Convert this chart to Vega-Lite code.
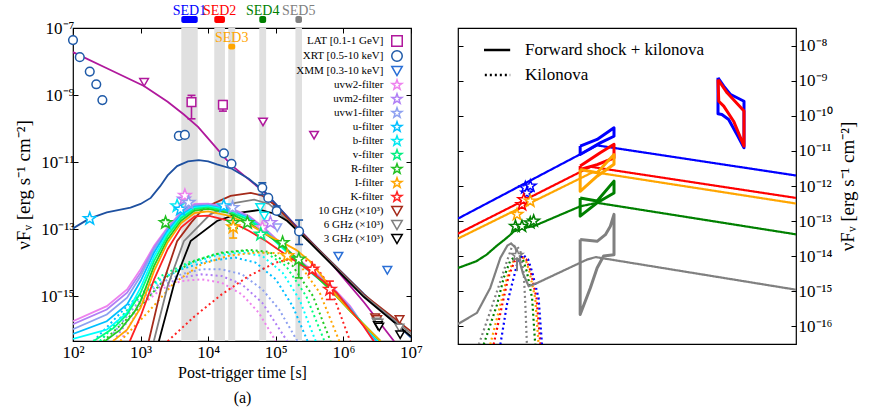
{
"$schema": "https://vega.github.io/schema/vega-lite/v6.json",
"padding": {"left": 14, "top": 3, "right": 4, "bottom": 4},
"background": "white",
"config": {
 "font": "Liberation Serif",
 "view": {"stroke": "black", "strokeWidth": 1.2},
 "axis": {"domain": false, "grid": false, "tickColor": "black", "tickWidth": 1, "labelColor": "black", "titleColor": "black", "labelFont": "Liberation Serif", "titleFont": "Liberation Serif", "titleFontWeight": "normal", "labelFontSize": 17, "titleFontSize": 16, "tickSize": -5, "labelFlush": false, "labelOverlap": false},
 "legend": {"labelFont": "Liberation Serif", "labelColor": "black"}
},
"datasets": {
 "bands": [
  {"sed": "SED1", "t1": 4000, "t2": 7000, "tc": 5290},
  {"sed": "SED2", "t1": 12300, "t2": 17700, "tc": 14750},
  {"sed": "SED3", "t1": 19800, "t2": 25100, "tc": 22300},
  {"sed": "SED4", "t1": 57000, "t2": 72000, "tc": 64000},
  {"sed": "SED5", "t1": 195000, "t2": 244000, "tc": 218000}
 ],
 "lcurves": [
  {"curve":"LAT","kind":"total","t":100,"flux":1.905e-8},{"curve":"LAT","kind":"total","t":316,"flux":6.31e-9},{"curve":"LAT","kind":"total","t":1122,"flux":1.862e-9},{"curve":"LAT","kind":"total","t":2512,"flux":6.31e-10},{"curve":"LAT","kind":"total","t":4365,"flux":2.63e-10},{"curve":"LAT","kind":"total","t":7079,"flux":1.122e-10},{"curve":"LAT","kind":"total","t":10715,"flux":4.266e-11},{"curve":"LAT","kind":"total","t":21380,"flux":8.511e-12},{"curve":"LAT","kind":"total","t":67608,"flux":1.259e-12},{"curve":"LAT","kind":"total","t":208930,"flux":1.122e-13},{"curve":"LAT","kind":"total","t":645654,"flux":1e-14},{"curve":"LAT","kind":"total","t":2041738,"flux":6.31e-16},{"curve":"LAT","kind":"total","t":5623413,"flux":4.5e-17},
  {"curve":"XRT","kind":"total","t":100,"flux":1.047e-13},{"curve":"XRT","kind":"total","t":174,"flux":2.042e-13},{"curve":"XRT","kind":"total","t":316,"flux":3.162e-13},{"curve":"XRT","kind":"total","t":708,"flux":4.365e-13},{"curve":"XRT","kind":"total","t":1000,"flux":5.623e-13},{"curve":"XRT","kind":"total","t":1413,"flux":8.511e-13},{"curve":"XRT","kind":"total","t":1950,"flux":1.905e-12},{"curve":"XRT","kind":"total","t":2512,"flux":3.981e-12},{"curve":"XRT","kind":"total","t":3467,"flux":7.586e-12},{"curve":"XRT","kind":"total","t":5012,"flux":1.047e-11},{"curve":"XRT","kind":"total","t":7244,"flux":1.148e-11},{"curve":"XRT","kind":"total","t":10000,"flux":1.047e-11},{"curve":"XRT","kind":"total","t":13490,"flux":8.511e-12},{"curve":"XRT","kind":"total","t":22387,"flux":6.31e-12},{"curve":"XRT","kind":"total","t":39811,"flux":3.162e-12},{"curve":"XRT","kind":"total","t":67608,"flux":1.349e-12},{"curve":"XRT","kind":"total","t":208930,"flux":1.072e-13},{"curve":"XRT","kind":"total","t":645654,"flux":1.096e-14},{"curve":"XRT","kind":"total","t":2041738,"flux":1.122e-15},{"curve":"XRT","kind":"total","t":10000000,"flux":5.754e-17},
  {"curve":"10 GHz","kind":"total","t":1318,"flux":4.5e-17},{"curve":"10 GHz","kind":"total","t":1995,"flux":1.585e-15},{"curve":"10 GHz","kind":"total","t":3467,"flux":4.365e-14},{"curve":"10 GHz","kind":"total","t":5623,"flux":1.585e-13},{"curve":"10 GHz","kind":"total","t":8710,"flux":4.365e-13},{"curve":"10 GHz","kind":"total","t":21380,"flux":9.772e-13},{"curve":"10 GHz","kind":"total","t":42658,"flux":1.202e-12},{"curve":"10 GHz","kind":"total","t":63096,"flux":1e-12},{"curve":"10 GHz","kind":"total","t":93325,"flux":5.495e-13},{"curve":"10 GHz","kind":"total","t":199526,"flux":1.122e-13},{"curve":"10 GHz","kind":"total","t":630957,"flux":1.122e-14},{"curve":"10 GHz","kind":"total","t":1995262,"flux":1.122e-15},{"curve":"10 GHz","kind":"total","t":10000000,"flux":8.913e-17},
  {"curve":"6 GHz","kind":"total","t":1567,"flux":4.5e-17},{"curve":"6 GHz","kind":"total","t":2512,"flux":1.995e-15},{"curve":"6 GHz","kind":"total","t":4365,"flux":4.365e-14},{"curve":"6 GHz","kind":"total","t":10715,"flux":2.754e-13},{"curve":"6 GHz","kind":"total","t":25119,"flux":6.026e-13},{"curve":"6 GHz","kind":"total","t":47863,"flux":7.586e-13},{"curve":"6 GHz","kind":"total","t":79433,"flux":5.623e-13},{"curve":"6 GHz","kind":"total","t":158489,"flux":1.585e-13},{"curve":"6 GHz","kind":"total","t":630957,"flux":1.072e-14},{"curve":"6 GHz","kind":"total","t":1995262,"flux":1.047e-15},{"curve":"6 GHz","kind":"total","t":10000000,"flux":7.586e-17},
  {"curve":"3 GHz","kind":"total","t":1862,"flux":4.5e-17},{"curve":"3 GHz","kind":"total","t":3162,"flux":2.512e-15},{"curve":"3 GHz","kind":"total","t":5495,"flux":4.365e-14},{"curve":"3 GHz","kind":"total","t":13490,"flux":1.738e-13},{"curve":"3 GHz","kind":"total","t":31623,"flux":3.162e-13},{"curve":"3 GHz","kind":"total","t":58884,"flux":3.715e-13},{"curve":"3 GHz","kind":"total","t":100000,"flux":2.818e-13},{"curve":"3 GHz","kind":"total","t":147911,"flux":1.738e-13},{"curve":"3 GHz","kind":"total","t":316228,"flux":3.981e-14},{"curve":"3 GHz","kind":"total","t":630957,"flux":1e-14},{"curve":"3 GHz","kind":"total","t":1995262,"flux":9.55e-16},{"curve":"3 GHz","kind":"total","t":10000000,"flux":6.31e-17},
  {"curve":"uvw2","kind":"total","t":100,"flux":1.778e-16},{"curve":"uvw2","kind":"total","t":316,"flux":5.012e-16},{"curve":"uvw2","kind":"total","t":631,"flux":1.585e-15},{"curve":"uvw2","kind":"total","t":1000,"flux":6.31e-15},{"curve":"uvw2","kind":"total","t":1585,"flux":3.162e-14},{"curve":"uvw2","kind":"total","t":2512,"flux":1.122e-13},{"curve":"uvw2","kind":"total","t":3981,"flux":3.162e-13},{"curve":"uvw2","kind":"total","t":6310,"flux":5.623e-13},{"curve":"uvw2","kind":"total","t":10000,"flux":5.754e-13},{"curve":"uvw2","kind":"total","t":19953,"flux":4.467e-13},{"curve":"uvw2","kind":"total","t":39811,"flux":2.512e-13},{"curve":"uvw2","kind":"total","t":70795,"flux":1e-13},{"curve":"uvw2","kind":"total","t":199526,"flux":1.413e-14},{"curve":"uvw2","kind":"total","t":630957,"flux":2.239e-15},{"curve":"uvw2","kind":"total","t":1258925,"flux":5.012e-16},{"curve":"uvw2","kind":"total","t":2818383,"flux":4.5e-17},
  {"curve":"uvm2","kind":"total","t":100,"flux":1.445e-16},{"curve":"uvm2","kind":"total","t":316,"flux":3.981e-16},{"curve":"uvm2","kind":"total","t":631,"flux":1.259e-15},{"curve":"uvm2","kind":"total","t":1000,"flux":5.012e-15},{"curve":"uvm2","kind":"total","t":1585,"flux":2.818e-14},{"curve":"uvm2","kind":"total","t":2512,"flux":1.047e-13},{"curve":"uvm2","kind":"total","t":3981,"flux":3.02e-13},{"curve":"uvm2","kind":"total","t":6310,"flux":5.37e-13},{"curve":"uvm2","kind":"total","t":10000,"flux":5.495e-13},{"curve":"uvm2","kind":"total","t":19953,"flux":4.266e-13},{"curve":"uvm2","kind":"total","t":39811,"flux":2.399e-13},{"curve":"uvm2","kind":"total","t":70795,"flux":9.55e-14},{"curve":"uvm2","kind":"total","t":199526,"flux":1.349e-14},{"curve":"uvm2","kind":"total","t":630957,"flux":2.089e-15},{"curve":"uvm2","kind":"total","t":1258925,"flux":4.677e-16},{"curve":"uvm2","kind":"total","t":2951209,"flux":4.5e-17},
  {"curve":"uvw1","kind":"total","t":100,"flux":1.023e-16},{"curve":"uvw1","kind":"total","t":316,"flux":2.818e-16},{"curve":"uvw1","kind":"total","t":631,"flux":8.913e-16},{"curve":"uvw1","kind":"total","t":1000,"flux":3.981e-15},{"curve":"uvw1","kind":"total","t":1585,"flux":2.512e-14},{"curve":"uvw1","kind":"total","t":2512,"flux":1e-13},{"curve":"uvw1","kind":"total","t":3981,"flux":2.818e-13},{"curve":"uvw1","kind":"total","t":6310,"flux":5.012e-13},{"curve":"uvw1","kind":"total","t":10000,"flux":5.248e-13},{"curve":"uvw1","kind":"total","t":19953,"flux":3.981e-13},{"curve":"uvw1","kind":"total","t":39811,"flux":2.239e-13},{"curve":"uvw1","kind":"total","t":70795,"flux":8.913e-14},{"curve":"uvw1","kind":"total","t":199526,"flux":1.259e-14},{"curve":"uvw1","kind":"total","t":630957,"flux":1.995e-15},{"curve":"uvw1","kind":"total","t":1258925,"flux":4.365e-16},{"curve":"uvw1","kind":"total","t":3090295,"flux":4.5e-17},
  {"curve":"u","kind":"total","t":100,"flux":7.413e-17},{"curve":"u","kind":"total","t":316,"flux":1.778e-16},{"curve":"u","kind":"total","t":631,"flux":5.623e-16},{"curve":"u","kind":"total","t":1000,"flux":2.818e-15},{"curve":"u","kind":"total","t":1585,"flux":1.995e-14},{"curve":"u","kind":"total","t":2512,"flux":8.913e-14},{"curve":"u","kind":"total","t":3981,"flux":2.63e-13},{"curve":"u","kind":"total","t":6310,"flux":4.677e-13},{"curve":"u","kind":"total","t":10000,"flux":5.012e-13},{"curve":"u","kind":"total","t":19953,"flux":3.802e-13},{"curve":"u","kind":"total","t":39811,"flux":2.089e-13},{"curve":"u","kind":"total","t":70795,"flux":8.318e-14},{"curve":"u","kind":"total","t":199526,"flux":1.202e-14},{"curve":"u","kind":"total","t":630957,"flux":1.905e-15},{"curve":"u","kind":"total","t":1258925,"flux":4.169e-16},{"curve":"u","kind":"total","t":3162278,"flux":4.5e-17},
  {"curve":"b","kind":"total","t":100,"flux":5.248e-17},{"curve":"b","kind":"total","t":316,"flux":1e-16},{"curve":"b","kind":"total","t":631,"flux":3.162e-16},{"curve":"b","kind":"total","t":1000,"flux":1.778e-15},{"curve":"b","kind":"total","t":1585,"flux":1.514e-14},{"curve":"b","kind":"total","t":2512,"flux":7.586e-14},{"curve":"b","kind":"total","t":3981,"flux":2.399e-13},{"curve":"b","kind":"total","t":6310,"flux":4.365e-13},{"curve":"b","kind":"total","t":10000,"flux":4.786e-13},{"curve":"b","kind":"total","t":19953,"flux":3.631e-13},{"curve":"b","kind":"total","t":39811,"flux":1.995e-13},{"curve":"b","kind":"total","t":70795,"flux":7.943e-14},{"curve":"b","kind":"total","t":199526,"flux":1.122e-14},{"curve":"b","kind":"total","t":630957,"flux":1.778e-15},{"curve":"b","kind":"total","t":1258925,"flux":3.981e-16},{"curve":"b","kind":"total","t":3311311,"flux":4.5e-17},
  {"curve":"v","kind":"total","t":200,"flux":4.5e-17},{"curve":"v","kind":"total","t":398,"flux":1.122e-16},{"curve":"v","kind":"total","t":631,"flux":2.818e-16},{"curve":"v","kind":"total","t":1000,"flux":1.259e-15},{"curve":"v","kind":"total","t":1585,"flux":1.122e-14},{"curve":"v","kind":"total","t":2512,"flux":6.31e-14},{"curve":"v","kind":"total","t":3981,"flux":2.138e-13},{"curve":"v","kind":"total","t":6310,"flux":3.981e-13},{"curve":"v","kind":"total","t":10000,"flux":4.467e-13},{"curve":"v","kind":"total","t":19953,"flux":3.388e-13},{"curve":"v","kind":"total","t":39811,"flux":1.905e-13},{"curve":"v","kind":"total","t":70795,"flux":7.943e-14},{"curve":"v","kind":"total","t":199526,"flux":1.259e-14},{"curve":"v","kind":"total","t":630957,"flux":1.778e-15},{"curve":"v","kind":"total","t":1258925,"flux":3.802e-16},{"curve":"v","kind":"total","t":3467369,"flux":4.5e-17},
  {"curve":"R","kind":"total","t":295,"flux":4.5e-17},{"curve":"R","kind":"total","t":501,"flux":1e-16},{"curve":"R","kind":"total","t":794,"flux":3.162e-16},{"curve":"R","kind":"total","t":1000,"flux":7.079e-16},{"curve":"R","kind":"total","t":1585,"flux":7.943e-15},{"curve":"R","kind":"total","t":2512,"flux":5.012e-14},{"curve":"R","kind":"total","t":3981,"flux":1.778e-13},{"curve":"R","kind":"total","t":6310,"flux":3.548e-13},{"curve":"R","kind":"total","t":10000,"flux":3.981e-13},{"curve":"R","kind":"total","t":19953,"flux":3.02e-13},{"curve":"R","kind":"total","t":39811,"flux":1.585e-13},{"curve":"R","kind":"total","t":70795,"flux":7.079e-14},{"curve":"R","kind":"total","t":125893,"flux":3.162e-14},{"curve":"R","kind":"total","t":199526,"flux":1.413e-14},{"curve":"R","kind":"total","t":630957,"flux":1.585e-15},{"curve":"R","kind":"total","t":1258925,"flux":3.548e-16},{"curve":"R","kind":"total","t":3548134,"flux":4.5e-17},
  {"curve":"I","kind":"total","t":389,"flux":4.5e-17},{"curve":"I","kind":"total","t":631,"flux":1e-16},{"curve":"I","kind":"total","t":1000,"flux":4.467e-16},{"curve":"I","kind":"total","t":1585,"flux":5.623e-15},{"curve":"I","kind":"total","t":2512,"flux":3.981e-14},{"curve":"I","kind":"total","t":3981,"flux":1.514e-13},{"curve":"I","kind":"total","t":6310,"flux":3.02e-13},{"curve":"I","kind":"total","t":10000,"flux":3.388e-13},{"curve":"I","kind":"total","t":19953,"flux":2.512e-13},{"curve":"I","kind":"total","t":39811,"flux":1.413e-13},{"curve":"I","kind":"total","t":70795,"flux":7.079e-14},{"curve":"I","kind":"total","t":125893,"flux":3.981e-14},{"curve":"I","kind":"total","t":199526,"flux":2.399e-14},{"curve":"I","kind":"total","t":316228,"flux":1.122e-14},{"curve":"I","kind":"total","t":501187,"flux":3.548e-15},{"curve":"I","kind":"total","t":794328,"flux":1e-15},{"curve":"I","kind":"total","t":1584893,"flux":2.239e-16},{"curve":"I","kind":"total","t":3548134,"flux":4.5e-17},
  {"curve":"K","kind":"total","t":692,"flux":4.5e-17},{"curve":"K","kind":"total","t":1000,"flux":2.512e-16},{"curve":"K","kind":"total","t":1585,"flux":3.162e-15},{"curve":"K","kind":"total","t":2512,"flux":2.512e-14},{"curve":"K","kind":"total","t":3981,"flux":1.122e-13},{"curve":"K","kind":"total","t":6310,"flux":2.399e-13},{"curve":"K","kind":"total","t":10000,"flux":2.512e-13},{"curve":"K","kind":"total","t":19953,"flux":1.778e-13},{"curve":"K","kind":"total","t":39811,"flux":8.913e-14},{"curve":"K","kind":"total","t":70795,"flux":4.467e-14},{"curve":"K","kind":"total","t":125893,"flux":1.995e-14},{"curve":"K","kind":"total","t":251189,"flux":7.943e-15},{"curve":"K","kind":"total","t":501187,"flux":2.818e-15},{"curve":"K","kind":"total","t":794328,"flux":1.259e-15},{"curve":"K","kind":"total","t":1258925,"flux":3.981e-16},{"curve":"K","kind":"total","t":1995262,"flux":1.259e-16},{"curve":"K","kind":"total","t":2818383,"flux":4.5e-17},
  {"curve":"uvw2","kind":"kilonova","t":501,"flux":4.5e-17},{"curve":"uvw2","kind":"kilonova","t":1000,"flux":5.012e-16},{"curve":"uvw2","kind":"kilonova","t":1995,"flux":1.585e-15},{"curve":"uvw2","kind":"kilonova","t":3981,"flux":2.818e-15},{"curve":"uvw2","kind":"kilonova","t":7943,"flux":3.162e-15},{"curve":"uvw2","kind":"kilonova","t":15849,"flux":2.512e-15},{"curve":"uvw2","kind":"kilonova","t":31623,"flux":1.122e-15},{"curve":"uvw2","kind":"kilonova","t":56234,"flux":3.162e-16},{"curve":"uvw2","kind":"kilonova","t":100000,"flux":4.5e-17},
  {"curve":"uvm2","kind":"kilonova","t":398,"flux":4.5e-17},{"curve":"uvm2","kind":"kilonova","t":1000,"flux":6.31e-16},{"curve":"uvm2","kind":"kilonova","t":1995,"flux":1.995e-15},{"curve":"uvm2","kind":"kilonova","t":3981,"flux":3.548e-15},{"curve":"uvm2","kind":"kilonova","t":7943,"flux":4.467e-15},{"curve":"uvm2","kind":"kilonova","t":15849,"flux":3.981e-15},{"curve":"uvm2","kind":"kilonova","t":31623,"flux":2.239e-15},{"curve":"uvm2","kind":"kilonova","t":63096,"flux":6.31e-16},{"curve":"uvm2","kind":"kilonova","t":147911,"flux":4.5e-17},
  {"curve":"uvw1","kind":"kilonova","t":316,"flux":4.5e-17},{"curve":"uvw1","kind":"kilonova","t":1000,"flux":7.943e-16},{"curve":"uvw1","kind":"kilonova","t":1995,"flux":2.512e-15},{"curve":"uvw1","kind":"kilonova","t":3981,"flux":4.467e-15},{"curve":"uvw1","kind":"kilonova","t":7943,"flux":6.31e-15},{"curve":"uvw1","kind":"kilonova","t":15849,"flux":6.31e-15},{"curve":"uvw1","kind":"kilonova","t":31623,"flux":4.467e-15},{"curve":"uvw1","kind":"kilonova","t":63096,"flux":1.585e-15},{"curve":"uvw1","kind":"kilonova","t":112202,"flux":3.981e-16},{"curve":"uvw1","kind":"kilonova","t":208930,"flux":4.5e-17},
  {"curve":"u","kind":"kilonova","t":200,"flux":4.5e-17},{"curve":"u","kind":"kilonova","t":631,"flux":5.012e-16},{"curve":"u","kind":"kilonova","t":1585,"flux":2.512e-15},{"curve":"u","kind":"kilonova","t":3981,"flux":6.31e-15},{"curve":"u","kind":"kilonova","t":10000,"flux":1.122e-14},{"curve":"u","kind":"kilonova","t":25119,"flux":1.413e-14},{"curve":"u","kind":"kilonova","t":50119,"flux":1e-14},{"curve":"u","kind":"kilonova","t":100000,"flux":3.162e-15},{"curve":"u","kind":"kilonova","t":177828,"flux":5.012e-16},{"curve":"u","kind":"kilonova","t":295121,"flux":4.5e-17},
  {"curve":"b","kind":"kilonova","t":251,"flux":4.5e-17},{"curve":"b","kind":"kilonova","t":794,"flux":6.31e-16},{"curve":"b","kind":"kilonova","t":1995,"flux":3.162e-15},{"curve":"b","kind":"kilonova","t":5012,"flux":8.913e-15},{"curve":"b","kind":"kilonova","t":12589,"flux":1.585e-14},{"curve":"b","kind":"kilonova","t":31623,"flux":1.995e-14},{"curve":"b","kind":"kilonova","t":63096,"flux":1.585e-14},{"curve":"b","kind":"kilonova","t":125893,"flux":5.012e-15},{"curve":"b","kind":"kilonova","t":223872,"flux":7.943e-16},{"curve":"b","kind":"kilonova","t":389045,"flux":4.5e-17},
  {"curve":"v","kind":"kilonova","t":251,"flux":4.5e-17},{"curve":"v","kind":"kilonova","t":794,"flux":6.31e-16},{"curve":"v","kind":"kilonova","t":1995,"flux":3.981e-15},{"curve":"v","kind":"kilonova","t":5012,"flux":1e-14},{"curve":"v","kind":"kilonova","t":12589,"flux":1.778e-14},{"curve":"v","kind":"kilonova","t":31623,"flux":2.239e-14},{"curve":"v","kind":"kilonova","t":70795,"flux":1.995e-14},{"curve":"v","kind":"kilonova","t":141254,"flux":7.943e-15},{"curve":"v","kind":"kilonova","t":281838,"flux":1e-15},{"curve":"v","kind":"kilonova","t":524807,"flux":4.5e-17},
  {"curve":"R","kind":"kilonova","t":282,"flux":4.5e-17},{"curve":"R","kind":"kilonova","t":1000,"flux":5.012e-16},{"curve":"R","kind":"kilonova","t":2512,"flux":3.981e-15},{"curve":"R","kind":"kilonova","t":6310,"flux":1.122e-14},{"curve":"R","kind":"kilonova","t":15849,"flux":1.995e-14},{"curve":"R","kind":"kilonova","t":39811,"flux":2.399e-14},{"curve":"R","kind":"kilonova","t":79433,"flux":2.089e-14},{"curve":"R","kind":"kilonova","t":177828,"flux":7.943e-15},{"curve":"R","kind":"kilonova","t":354813,"flux":1e-15},{"curve":"R","kind":"kilonova","t":645654,"flux":4.5e-17},
  {"curve":"I","kind":"kilonova","t":501,"flux":4.5e-17},{"curve":"I","kind":"kilonova","t":1259,"flux":3.162e-16},{"curve":"I","kind":"kilonova","t":3162,"flux":2.512e-15},{"curve":"I","kind":"kilonova","t":7943,"flux":8.913e-15},{"curve":"I","kind":"kilonova","t":19953,"flux":1.585e-14},{"curve":"I","kind":"kilonova","t":50119,"flux":1.995e-14},{"curve":"I","kind":"kilonova","t":112202,"flux":1.905e-14},{"curve":"I","kind":"kilonova","t":223872,"flux":8.913e-15},{"curve":"I","kind":"kilonova","t":446684,"flux":1.259e-15},{"curve":"I","kind":"kilonova","t":870964,"flux":4.5e-17},
  {"curve":"K","kind":"kilonova","t":2512,"flux":4.5e-17},{"curve":"K","kind":"kilonova","t":6310,"flux":2.512e-16},{"curve":"K","kind":"kilonova","t":15849,"flux":1.122e-15},{"curve":"K","kind":"kilonova","t":39811,"flux":3.981e-15},{"curve":"K","kind":"kilonova","t":100000,"flux":1e-14},{"curve":"K","kind":"kilonova","t":199526,"flux":1.413e-14},{"curve":"K","kind":"kilonova","t":354813,"flux":1e-14},{"curve":"K","kind":"kilonova","t":630957,"flux":1.995e-15},{"curve":"K","kind":"kilonova","t":1258925,"flux":4.5e-17}
 ],
 "lpoints": [
  {"series":"LAT upper limit","t":1127,"flux":2.4e-9},{"series":"LAT upper limit","t":64600,"flux":1.58e-10},{"series":"LAT upper limit","t":368000,"flux":6.31e-11},
  {"series":"LAT [0.1-1 GeV]","t":5660,"flux":6.17e-10,"lo":1.95e-10,"hi":9.77e-10},{"series":"LAT [0.1-1 GeV]","t":16500,"flux":5.13e-10,"lo":3.31e-10,"hi":6.76e-10},
  {"series":"XRT [0.5-10 keV]","t":100,"flux":4.37e-8},{"series":"XRT [0.5-10 keV]","t":126,"flux":1.35e-8},{"series":"XRT [0.5-10 keV]","t":177,"flux":5.01e-9},{"series":"XRT [0.5-10 keV]","t":221,"flux":2.09e-9},{"series":"XRT [0.5-10 keV]","t":272,"flux":7.08e-10},{"series":"XRT [0.5-10 keV]","t":3680,"flux":6.03e-11},{"series":"XRT [0.5-10 keV]","t":4520,"flux":6.46e-11},{"series":"XRT [0.5-10 keV]","t":17100,"flux":1.82e-11},{"series":"XRT [0.5-10 keV]","t":22100,"flux":8.91e-12},{"series":"XRT [0.5-10 keV]","t":63100,"flux":1.7e-12,"lo":1.07e-12,"hi":2.4e-12},{"series":"XRT [0.5-10 keV]","t":77400,"flux":8.51e-13},{"series":"XRT [0.5-10 keV]","t":103000,"flux":3.47e-13,"lo":2.8e-13,"hi":4.9e-13},{"series":"XRT [0.5-10 keV]","t":221000,"flux":8.51e-14,"lo":3.47e-14,"hi":1.86e-13},
  {"series":"XMM [0.3-10 keV]","t":843000,"flux":1.55e-14},{"series":"XMM [0.3-10 keV]","t":4470000,"flux":5.89e-15},
  {"series":"10 GHz (×10³)","t":2950000,"flux":2.24e-16},{"series":"10 GHz (×10³)","t":3160000,"flux":2.0e-16},{"series":"10 GHz (×10³)","t":6760000,"flux":2.0e-16},
  {"series":"6 GHz (×10³)","t":3090000,"flux":1.7e-16},{"series":"6 GHz (×10³)","t":3310000,"flux":1.58e-16},{"series":"6 GHz (×10³)","t":6760000,"flux":1.12e-16},
  {"series":"3 GHz (×10³)","t":3240000,"flux":1.32e-16},{"series":"3 GHz (×10³)","t":3390000,"flux":1.2e-16},{"series":"3 GHz (×10³)","t":6920000,"flux":7.08e-17},
  {"series":"b-filter upper limit","t":58900,"flux":4.37e-13},{"series":"b-filter upper limit","t":67600,"flux":2.45e-13},{"series":"uvw1-filter upper limit","t":105000,"flux":1.1e-13},
  {"series":"u-filter","t":177,"flux":2.04e-13},
  {"series":"R-filter","t":2340,"flux":1.55e-13,"lo":1.2e-13,"hi":1.9e-13},
  {"series":"b-filter","t":3470,"flux":4.9e-13},
  {"series":"u-filter","t":3890,"flux":3.89e-13},
  {"series":"uvm2-filter","t":4370,"flux":7.76e-13},
  {"series":"uvw2-filter","t":4520,"flux":1.0e-12},
  {"series":"uvw1-filter","t":5130,"flux":6.17e-13},
  {"series":"u-filter","t":17000,"flux":4.9e-13},
  {"series":"uvw1-filter","t":22900,"flux":4.37e-13},
  {"series":"R-filter","t":23400,"flux":1.55e-13},
  {"series":"I-filter","t":23400,"flux":1.15e-13,"lo":5.4e-14,"hi":1.15e-13},
  {"series":"R-filter","t":38000,"flux":1.55e-13},
  {"series":"uvw2-filter","t":63100,"flux":1.1e-13},
  {"series":"uvm2-filter","t":83200,"flux":1.55e-13},
  {"series":"v-filter","t":60000,"flux":7.0e-14},
  {"series":"R-filter","t":126000,"flux":3.9e-14},
  {"series":"I-filter","t":148000,"flux":1.6e-14},
  {"series":"R-filter","t":219000,"flux":1.26e-14,"lo":3.5e-15,"hi":1.26e-14},
  {"series":"K-filter","t":347000,"flux":6.3e-15},
  {"series":"K-filter","t":631000,"flux":1.58e-15,"lo":7.9e-16,"hi":2.8e-15}
 ],
 "rlines": [
  {"sed":"SED1","kind":"Forward shock + kilonova","E":1e-5,"flux":1.175e-13},{"sed":"SED1","kind":"Forward shock + kilonova","E":2.239,"flux":1.445e-11},{"sed":"SED1","kind":"Forward shock + kilonova","E":1e8,"flux":1.995e-12},
  {"sed":"SED2","kind":"Forward shock + kilonova","E":1e-5,"flux":4.365e-14},{"sed":"SED2","kind":"Forward shock + kilonova","E":1.259,"flux":3.548e-12},{"sed":"SED2","kind":"Forward shock + kilonova","E":1e8,"flux":4.571e-13},
  {"sed":"SED3","kind":"Forward shock + kilonova","E":1e-5,"flux":3.162e-14},{"sed":"SED3","kind":"Forward shock + kilonova","E":1.585,"flux":2.512e-12},{"sed":"SED3","kind":"Forward shock + kilonova","E":1e8,"flux":3.162e-13},
  {"sed":"SED4","kind":"Forward shock + kilonova","E":1e-5,"flux":4.571e-15},{"sed":"SED4","kind":"Forward shock + kilonova","E":5.012e-5,"flux":7.079e-15},{"sed":"SED4","kind":"Forward shock + kilonova","E":1.259e-4,"flux":1.096e-14},{"sed":"SED4","kind":"Forward shock + kilonova","E":3.162e-4,"flux":1.995e-14},{"sed":"SED4","kind":"Forward shock + kilonova","E":5.754e-4,"flux":2.818e-14},{"sed":"SED4","kind":"Forward shock + kilonova","E":1e-3,"flux":3.981e-14},{"sed":"SED4","kind":"Forward shock + kilonova","E":1.38e-3,"flux":5.012e-14},{"sed":"SED4","kind":"Forward shock + kilonova","E":3.162e-3,"flux":6.31e-14},{"sed":"SED4","kind":"Forward shock + kilonova","E":7.943e-3,"flux":7.079e-14},{"sed":"SED4","kind":"Forward shock + kilonova","E":0.501,"flux":2.63e-13},{"sed":"SED4","kind":"Forward shock + kilonova","E":2.239,"flux":3.311e-13},{"sed":"SED4","kind":"Forward shock + kilonova","E":1e8,"flux":4.169e-14},
  {"sed":"SED5","kind":"Forward shock + kilonova","E":1e-5,"flux":1.148e-16},{"sed":"SED5","kind":"Forward shock + kilonova","E":5.37e-5,"flux":2.399e-16},{"sed":"SED5","kind":"Forward shock + kilonova","E":1.738e-4,"flux":1.23e-15},{"sed":"SED5","kind":"Forward shock + kilonova","E":4.266e-4,"flux":8.913e-15},{"sed":"SED5","kind":"Forward shock + kilonova","E":7.943e-4,"flux":1.995e-14},{"sed":"SED5","kind":"Forward shock + kilonova","E":1.096e-3,"flux":2.291e-14},{"sed":"SED5","kind":"Forward shock + kilonova","E":1.585e-3,"flux":1.778e-14},{"sed":"SED5","kind":"Forward shock + kilonova","E":2.239e-3,"flux":7.943e-15},{"sed":"SED5","kind":"Forward shock + kilonova","E":3.162e-3,"flux":3.162e-15},{"sed":"SED5","kind":"Forward shock + kilonova","E":5.248e-3,"flux":1.38e-15},{"sed":"SED5","kind":"Forward shock + kilonova","E":1.096e-2,"flux":1.698e-15},{"sed":"SED5","kind":"Forward shock + kilonova","E":0.912,"flux":7.943e-15},{"sed":"SED5","kind":"Forward shock + kilonova","E":1.995,"flux":9.333e-15},{"sed":"SED5","kind":"Forward shock + kilonova","E":1e8,"flux":1.096e-15},
  {"sed":"SED5","kind":"Kilonova","E":6.31e-5,"flux":3e-17},{"sed":"SED5","kind":"Kilonova","E":1.738e-4,"flux":2.63e-16},{"sed":"SED5","kind":"Kilonova","E":4.266e-4,"flux":1.905e-15},{"sed":"SED5","kind":"Kilonova","E":7.586e-4,"flux":7.079e-15},{"sed":"SED5","kind":"Kilonova","E":1.202e-3,"flux":1.905e-14},{"sed":"SED5","kind":"Kilonova","E":1.778e-3,"flux":1.995e-14},{"sed":"SED5","kind":"Kilonova","E":2.512e-3,"flux":1.38e-14},{"sed":"SED5","kind":"Kilonova","E":3.388e-3,"flux":3.162e-15},{"sed":"SED5","kind":"Kilonova","E":3.89e-3,"flux":4.169e-16},{"sed":"SED5","kind":"Kilonova","E":4.467e-3,"flux":3e-17},
  {"sed":"SED4","kind":"Kilonova","E":9.772e-5,"flux":3e-17},{"sed":"SED4","kind":"Kilonova","E":3.162e-4,"flux":4.074e-16},{"sed":"SED4","kind":"Kilonova","E":5.754e-4,"flux":2.399e-15},{"sed":"SED4","kind":"Kilonova","E":1e-3,"flux":7.079e-15},{"sed":"SED4","kind":"Kilonova","E":1.778e-3,"flux":1.096e-14},{"sed":"SED4","kind":"Kilonova","E":3.162e-3,"flux":7.943e-15},{"sed":"SED4","kind":"Kilonova","E":4.467e-3,"flux":3.548e-15},{"sed":"SED4","kind":"Kilonova","E":7.079e-3,"flux":6.31e-16},{"sed":"SED4","kind":"Kilonova","E":9.333e-3,"flux":3e-17},
  {"sed":"SED3","kind":"Kilonova","E":1.738e-4,"flux":3e-17},{"sed":"SED3","kind":"Kilonova","E":4.266e-4,"flux":4.074e-16},{"sed":"SED3","kind":"Kilonova","E":7.586e-4,"flux":2.399e-15},{"sed":"SED3","kind":"Kilonova","E":1.318e-3,"flux":7.079e-15},{"sed":"SED3","kind":"Kilonova","E":2.344e-3,"flux":1.096e-14},{"sed":"SED3","kind":"Kilonova","E":3.981e-3,"flux":7.943e-15},{"sed":"SED3","kind":"Kilonova","E":5.623e-3,"flux":3.548e-15},{"sed":"SED3","kind":"Kilonova","E":9.333e-3,"flux":6.31e-16},{"sed":"SED3","kind":"Kilonova","E":1.259e-2,"flux":3e-17},
  {"sed":"SED2","kind":"Kilonova","E":2.344e-4,"flux":3e-17},{"sed":"SED2","kind":"Kilonova","E":5.012e-4,"flux":4.074e-16},{"sed":"SED2","kind":"Kilonova","E":8.511e-4,"flux":2.399e-15},{"sed":"SED2","kind":"Kilonova","E":1.479e-3,"flux":7.079e-15},{"sed":"SED2","kind":"Kilonova","E":2.512e-3,"flux":1e-14},{"sed":"SED2","kind":"Kilonova","E":4.266e-3,"flux":7.943e-15},{"sed":"SED2","kind":"Kilonova","E":6.31e-3,"flux":3.548e-15},{"sed":"SED2","kind":"Kilonova","E":1.047e-2,"flux":6.31e-16},{"sed":"SED2","kind":"Kilonova","E":1.479e-2,"flux":3e-17},
  {"sed":"SED1","kind":"Kilonova","E":4.266e-4,"flux":3e-17},{"sed":"SED1","kind":"Kilonova","E":7.586e-4,"flux":4.074e-16},{"sed":"SED1","kind":"Kilonova","E":1.38e-3,"flux":2.399e-15},{"sed":"SED1","kind":"Kilonova","E":1.995e-3,"flux":7.079e-15},{"sed":"SED1","kind":"Kilonova","E":3.162e-3,"flux":1.096e-14},{"sed":"SED1","kind":"Kilonova","E":5.012e-3,"flux":7.943e-15},{"sed":"SED1","kind":"Kilonova","E":7.079e-3,"flux":3.548e-15},{"sed":"SED1","kind":"Kilonova","E":1.259e-2,"flux":6.31e-16},{"sed":"SED1","kind":"Kilonova","E":1.698e-2,"flux":3e-17}
 ],
 "bowties": [
  {"sed":"SED1","bt":"X1","i":0,"E":0.5,"flux":1.38e-11},{"sed":"SED1","bt":"X1","i":1,"E":2.24,"flux":2.138e-11},{"sed":"SED1","bt":"X1","i":2,"E":10,"flux":4.571e-11},{"sed":"SED1","bt":"X1","i":3,"E":10,"flux":2.63e-11},{"sed":"SED1","bt":"X1","i":4,"E":2.95,"flux":1.698e-11},{"sed":"SED1","bt":"X1","i":5,"E":0.5,"flux":7.943e-12},{"sed":"SED1","bt":"X1","i":6,"E":0.5,"flux":1.38e-11},
  {"sed":"SED2","bt":"X2","i":0,"E":0.5,"flux":3.715e-12},{"sed":"SED2","bt":"X2","i":1,"E":2.95,"flux":8.913e-12},{"sed":"SED2","bt":"X2","i":2,"E":10,"flux":1.549e-11},{"sed":"SED2","bt":"X2","i":3,"E":10,"flux":6.31e-12},{"sed":"SED2","bt":"X2","i":4,"E":2.24,"flux":4.074e-12},{"sed":"SED2","bt":"X2","i":5,"E":0.5,"flux":2.951e-12},{"sed":"SED2","bt":"X2","i":6,"E":0.5,"flux":3.715e-12},
  {"sed":"SED3","bt":"X3","i":0,"E":0.5,"flux":2.951e-12},{"sed":"SED3","bt":"X3","i":1,"E":2.24,"flux":2.399e-12},{"sed":"SED3","bt":"X3","i":2,"E":10,"flux":7.943e-12},{"sed":"SED3","bt":"X3","i":3,"E":10,"flux":4.169e-12},{"sed":"SED3","bt":"X3","i":4,"E":2.24,"flux":1.905e-12},{"sed":"SED3","bt":"X3","i":5,"E":0.5,"flux":7.079e-13},{"sed":"SED3","bt":"X3","i":6,"E":0.5,"flux":2.951e-12},
  {"sed":"SED4","bt":"X4","i":0,"E":0.5,"flux":4.571e-13},{"sed":"SED4","bt":"X4","i":1,"E":2.24,"flux":3.715e-13},{"sed":"SED4","bt":"X4","i":2,"E":10,"flux":1.38e-12},{"sed":"SED4","bt":"X4","i":3,"E":10,"flux":6.31e-13},{"sed":"SED4","bt":"X4","i":4,"E":2.24,"flux":3.311e-13},{"sed":"SED4","bt":"X4","i":5,"E":0.5,"flux":1.38e-13},{"sed":"SED4","bt":"X4","i":6,"E":0.5,"flux":4.571e-13},
  {"sed":"SED5","bt":"X5","i":0,"E":0.5,"flux":2.951e-14},{"sed":"SED5","bt":"X5","i":1,"E":2.24,"flux":2.63e-14},{"sed":"SED5","bt":"X5","i":2,"E":4.68,"flux":4.074e-14},{"sed":"SED5","bt":"X5","i":3,"E":7.24,"flux":7.079e-14},{"sed":"SED5","bt":"X5","i":4,"E":10,"flux":1.549e-13},{"sed":"SED5","bt":"X5","i":5,"E":10,"flux":1.096e-14},{"sed":"SED5","bt":"X5","i":6,"E":3.98,"flux":1e-14},{"sed":"SED5","bt":"X5","i":7,"E":2.24,"flux":4.571e-15},{"sed":"SED5","bt":"X5","i":8,"E":1.23,"flux":1.23e-15},{"sed":"SED5","bt":"X5","i":9,"E":0.5,"flux":2.138e-16},{"sed":"SED5","bt":"X5","i":10,"E":0.5,"flux":2.951e-14},
  {"sed":"SED1","bt":"G1","i":0,"E":100000,"flux":1.23e-9},{"sed":"SED1","bt":"G1","i":1,"E":166000,"flux":7.079e-10},{"sed":"SED1","bt":"G1","i":2,"E":295000,"flux":4.169e-10},{"sed":"SED1","bt":"G1","i":3,"E":1000000,"flux":2.63e-10},{"sed":"SED1","bt":"G1","i":4,"E":1000000,"flux":1.23e-11},{"sed":"SED1","bt":"G1","i":5,"E":537000,"flux":2.951e-11},{"sed":"SED1","bt":"G1","i":6,"E":257000,"flux":7.943e-11},{"sed":"SED1","bt":"G1","i":7,"E":141000,"flux":1.096e-10},{"sed":"SED1","bt":"G1","i":8,"E":100000,"flux":1.148e-10},{"sed":"SED1","bt":"G1","i":9,"E":100000,"flux":1.23e-9},
  {"sed":"SED2","bt":"G2","i":0,"E":100000,"flux":1.096e-9},{"sed":"SED2","bt":"G2","i":1,"E":224000,"flux":4.571e-10},{"sed":"SED2","bt":"G2","i":2,"E":1000000,"flux":1.38e-10},{"sed":"SED2","bt":"G2","i":3,"E":1000000,"flux":1.38e-11},{"sed":"SED2","bt":"G2","i":4,"E":398000,"flux":7.079e-11},{"sed":"SED2","bt":"G2","i":5,"E":166000,"flux":1.905e-10},{"sed":"SED2","bt":"G2","i":6,"E":107000,"flux":2.63e-10},{"sed":"SED2","bt":"G2","i":7,"E":100000,"flux":1.096e-9}
 ],
 "rpoints": [
  {"sed":"SED1","E":3.89e-3,"flux":8.913e-13},{"sed":"SED1","E":6.026e-3,"flux":1e-12},{"sed":"SED1","E":4.467e-3,"flux":6.31e-13},
  {"sed":"SED2","E":2.884e-3,"flux":2.951e-13},{"sed":"SED2","E":3.388e-3,"flux":4.074e-13},
  {"sed":"SED3","E":6.026e-3,"flux":3.715e-13},{"sed":"SED3","E":1.862e-3,"flux":1.549e-13},
  {"sed":"SED4","E":1.622e-3,"flux":7.079e-14},{"sed":"SED4","E":2.884e-3,"flux":7.079e-14},{"sed":"SED4","E":6.026e-3,"flux":8.913e-14},{"sed":"SED4","E":8.128e-3,"flux":1e-13},
  {"sed":"SED5","E":1.862e-3,"flux":1.047e-14,"lo":3.715e-15,"hi":1.047e-14}
 ]
},
"hconcat": [
 {
  "width": 338, "height": 313,
  "layer": [
   {"layer": [
    {"data": {"name": "bands"}, "mark": {"type": "rect", "color": "#e0e0e0"},
     "encoding": {
      "x": {"field": "t1", "type": "quantitative", "scale": {"type": "log", "domain": [100, 10000000], "nice": false},
            "axis": {"values": [100, 1000, 10000, 100000, 1000000, 10000000], "labelExpr": "'10' + (datum.value < 1 ? '⁻' : '') + ['⁰','¹','²','³','⁴','⁵','⁶','⁷','⁸','⁹','¹⁰','¹¹','¹²','¹³','¹⁴','¹⁵','¹⁶','¹⁷'][abs(round(log(datum.value)/LN10))]", "title": ["Post-trigger time [s]", "(a)"], "titleLineHeight": 25, "labelPadding": 8, "titlePadding": 4}},
      "x2": {"field": "t2"}}},
    {"data": {"name": "bands"}, "transform": [{"filter": "datum.sed != 'SED3'"}],
     "mark": {"type": "text", "fontSize": 14, "baseline": "middle", "font": "Liberation Serif"},
     "encoding": {
      "x": {"field": "tc", "type": "quantitative"},
      "y": {"datum": 3.24e-7, "type": "quantitative", "scale": {"type": "log", "domain": [4.57e-17, 1e-7], "nice": false}},
      "text": {"field": "sed"},
      "fill": {"field": "sed", "type": "nominal", "scale": {"domain": ["SED1","SED2","SED3","SED4","SED5"], "range": ["#0000ff","#ff0000","#ffa500","#008000","#808080"]}, "legend": null}}},
    {"data": {"name": "bands"}, "transform": [{"filter": "datum.sed == 'SED3'"}],
     "mark": {"type": "text", "fontSize": 14, "baseline": "middle", "font": "Liberation Serif"},
     "encoding": {
      "x": {"field": "tc", "type": "quantitative"},
      "y": {"datum": 4.9e-8, "type": "quantitative"},
      "text": {"field": "sed"},
      "fill": {"field": "sed", "type": "nominal", "legend": null}}},
    {"data": {"name": "bands"}, "transform": [{"filter": "datum.sed != 'SED3'"}],
     "mark": {"type": "rect", "cornerRadius": 2},
     "encoding": {
      "x": {"field": "t1", "type": "quantitative"}, "x2": {"field": "t2"},
      "y": {"datum": 2.29e-7, "type": "quantitative"}, "y2": {"datum": 1.41e-7},
      "fill": {"field": "sed", "type": "nominal", "legend": null}}},
    {"data": {"name": "bands"}, "transform": [{"filter": "datum.sed == 'SED3'"}],
     "mark": {"type": "rect", "cornerRadius": 2},
     "encoding": {
      "x": {"field": "t1", "type": "quantitative"}, "x2": {"field": "t2"},
      "y": {"datum": 3.39e-8, "type": "quantitative"}, "y2": {"datum": 2.29e-8},
      "fill": {"field": "sed", "type": "nominal", "legend": null}}},
    {"data": {"name": "lcurves"}, "transform": [{"filter": "datum.kind == 'kilonova'"}],
     "mark": {"type": "line", "clip": true, "strokeWidth": 2, "strokeDash": [2, 3]},
     "encoding": {
      "x": {"field": "t", "type": "quantitative"},
      "y": {"field": "flux", "type": "quantitative",
            "axis": {"values": [1e-7, 1e-9, 1e-11, 1e-13, 1e-15], "labelExpr": "'10' + (datum.value < 1 ? '⁻' : '') + ['⁰','¹','²','³','⁴','⁵','⁶','⁷','⁸','⁹','¹⁰','¹¹','¹²','¹³','¹⁴','¹⁵','¹⁶','¹⁷'][abs(round(log(datum.value)/LN10))]", "title": "νFᵥ [erg s⁻¹ cm⁻²]", "titleFontSize": 19, "labelPadding": 4, "titlePadding": 6}},
      "color": {"field": "curve", "type": "nominal", "legend": null,
                "scale": {"domain": ["LAT","XRT","10 GHz","6 GHz","3 GHz","uvw2","uvm2","uvw1","u","b","v","R","I","K"],
                          "range": ["#b0189c","#1e50a0","#a52a1a","#808080","#000000","#ee82ee","#b07ff5","#8da0f0","#00bfff","#00ffff","#00ff7f","#22cc22","#ffa500","#ff2222"]}}}},
    {"data": {"name": "lcurves"}, "transform": [{"filter": "datum.kind == 'total'"}],
     "mark": {"type": "line", "clip": true, "strokeWidth": 1.8},
     "encoding": {
      "x": {"field": "t", "type": "quantitative"},
      "y": {"field": "flux", "type": "quantitative"},
      "color": {"field": "curve", "type": "nominal", "legend": null}}},
    {"data": {"name": "lpoints"}, "transform": [{"filter": "isValid(datum.lo)"}],
     "mark": {"type": "rule", "strokeWidth": 1.6},
     "encoding": {
      "x": {"field": "t", "type": "quantitative"},
      "y": {"field": "lo", "type": "quantitative"}, "y2": {"field": "hi"},
      "stroke": {"field": "series", "type": "nominal"}}},
    {"data": {"name": "lpoints"}, "transform": [{"filter": "isValid(datum.lo)"}],
     "mark": {"type": "point", "shape": "stroke", "filled": false, "opacity": 1, "strokeWidth": 1.6, "size": 64},
     "encoding": {
      "x": {"field": "t", "type": "quantitative"},
      "y": {"field": "lo", "type": "quantitative"},
      "stroke": {"field": "series", "type": "nominal"}}},
    {"data": {"name": "lpoints"}, "transform": [{"filter": "isValid(datum.lo)"}],
     "mark": {"type": "point", "shape": "stroke", "filled": false, "opacity": 1, "strokeWidth": 1.6, "size": 64},
     "encoding": {
      "x": {"field": "t", "type": "quantitative"},
      "y": {"field": "hi", "type": "quantitative"},
      "stroke": {"field": "series", "type": "nominal"}}},
    {"data": {"name": "lpoints"}, "transform": [{"filter": {"not": {"field": "series", "oneOf": ["uvw2-filter","uvm2-filter","uvw1-filter","u-filter","b-filter","v-filter","R-filter","I-filter","K-filter"]}}}],
     "mark": {"type": "point", "filled": false, "fill": "white", "opacity": 1, "strokeWidth": 1.5, "size": 75},
     "encoding": {
      "x": {"field": "t", "type": "quantitative"},
      "y": {"field": "flux", "type": "quantitative"},
      "stroke": {"field": "series", "type": "nominal",
                 "scale": {"domain": ["LAT [0.1-1 GeV]","XRT [0.5-10 keV]","XMM [0.3-10 keV]","uvw2-filter","uvm2-filter","uvw1-filter","u-filter","b-filter","v-filter","R-filter","I-filter","K-filter","10 GHz (×10³)","6 GHz (×10³)","3 GHz (×10³)","LAT upper limit","b-filter upper limit","uvw1-filter upper limit"],
                           "range": ["#b0189c","#1f5aa8","#2a6fd6","#ee82ee","#b07ff5","#8da0f0","#00bfff","#00e8f0","#00ee80","#22c022","#ffa500","#ff2222","#a52a1a","#808080","#000000","#b0189c","#00e8f0","#8da0f0"]},
                 "legend": {"title": null, "orient": "none", "legendX": 318, "legendY": 7, "values": ["LAT [0.1-1 GeV]","XRT [0.5-10 keV]","XMM [0.3-10 keV]","uvw2-filter","uvm2-filter","uvw1-filter","u-filter","b-filter","v-filter","R-filter","I-filter","K-filter","10 GHz (×10³)","6 GHz (×10³)","3 GHz (×10³)"], "labelAlign": "right", "labelOffset": -19.6, "symbolOffset": 0, "symbolSize": 110, "symbolStrokeWidth": 1.5, "symbolFillColor": "white", "labelFontSize": 11, "rowPadding": -3, "padding": 0, "labelLimit": 250}},
      "shape": {"field": "series", "type": "nominal",
                "scale": {"domain": ["LAT [0.1-1 GeV]","XRT [0.5-10 keV]","XMM [0.3-10 keV]","uvw2-filter","uvm2-filter","uvw1-filter","u-filter","b-filter","v-filter","R-filter","I-filter","K-filter","10 GHz (×10³)","6 GHz (×10³)","3 GHz (×10³)","LAT upper limit","b-filter upper limit","uvw1-filter upper limit"],
                          "range": ["square","circle","triangle-down","M0,-1L0.235,-0.324L0.951,-0.309L0.38,0.124L0.588,0.809L0,0.4L-0.588,0.809L-0.38,0.124L-0.951,-0.309L-0.235,-0.324Z","M0,-1L0.235,-0.324L0.951,-0.309L0.38,0.124L0.588,0.809L0,0.4L-0.588,0.809L-0.38,0.124L-0.951,-0.309L-0.235,-0.324Z","M0,-1L0.235,-0.324L0.951,-0.309L0.38,0.124L0.588,0.809L0,0.4L-0.588,0.809L-0.38,0.124L-0.951,-0.309L-0.235,-0.324Z","M0,-1L0.235,-0.324L0.951,-0.309L0.38,0.124L0.588,0.809L0,0.4L-0.588,0.809L-0.38,0.124L-0.951,-0.309L-0.235,-0.324Z","M0,-1L0.235,-0.324L0.951,-0.309L0.38,0.124L0.588,0.809L0,0.4L-0.588,0.809L-0.38,0.124L-0.951,-0.309L-0.235,-0.324Z","M0,-1L0.235,-0.324L0.951,-0.309L0.38,0.124L0.588,0.809L0,0.4L-0.588,0.809L-0.38,0.124L-0.951,-0.309L-0.235,-0.324Z","M0,-1L0.235,-0.324L0.951,-0.309L0.38,0.124L0.588,0.809L0,0.4L-0.588,0.809L-0.38,0.124L-0.951,-0.309L-0.235,-0.324Z","M0,-1L0.235,-0.324L0.951,-0.309L0.38,0.124L0.588,0.809L0,0.4L-0.588,0.809L-0.38,0.124L-0.951,-0.309L-0.235,-0.324Z","M0,-1L0.235,-0.324L0.951,-0.309L0.38,0.124L0.588,0.809L0,0.4L-0.588,0.809L-0.38,0.124L-0.951,-0.309L-0.235,-0.324Z","triangle-down","triangle-down","triangle-down","triangle-down","triangle-down","triangle-down"]},
                "legend": {"title": null, "orient": "none", "legendX": 318, "legendY": 7, "values": ["LAT [0.1-1 GeV]","XRT [0.5-10 keV]","XMM [0.3-10 keV]","uvw2-filter","uvm2-filter","uvw1-filter","u-filter","b-filter","v-filter","R-filter","I-filter","K-filter","10 GHz (×10³)","6 GHz (×10³)","3 GHz (×10³)"], "labelAlign": "right", "labelOffset": -19.6, "symbolOffset": 0, "symbolSize": 110, "symbolStrokeWidth": 1.5, "symbolFillColor": "white", "labelFontSize": 11, "rowPadding": -3, "padding": 0, "labelLimit": 250}}}},
    {"data": {"name": "lpoints"}, "transform": [{"filter": {"field": "series", "oneOf": ["uvw2-filter","uvm2-filter","uvw1-filter","u-filter","b-filter","v-filter","R-filter","I-filter","K-filter"]}}],
     "mark": {"type": "point", "filled": false, "fill": "white", "opacity": 1, "strokeWidth": 1.5, "size": 170},
     "encoding": {
      "x": {"field": "t", "type": "quantitative"},
      "y": {"field": "flux", "type": "quantitative"},
      "stroke": {"field": "series", "type": "nominal"},
      "shape": {"field": "series", "type": "nominal"}}}
   ]},
   {"data": {"name": "bands"}, "mark": {"type": "point", "opacity": 0},
    "encoding": {
     "x": {"field": "t1", "type": "quantitative", "axis": {"orient": "top", "values": [100, 1000, 10000, 100000, 1000000, 10000000], "labels": false, "title": null}},
     "y": {"datum": 1e-10, "type": "quantitative", "axis": {"orient": "right", "values": [1e-7, 1e-9, 1e-11, 1e-13, 1e-15], "labels": false, "title": null}}}}
  ],
  "resolve": {"axis": {"x": "independent", "y": "independent"}}
 },
 {
  "width": 338, "height": 316,
  "layer": [
   {"layer": [
    {"data": {"name": "rlines"}, "transform": [{"filter": "datum.kind == 'Kilonova'"}],
     "mark": {"type": "line", "clip": true, "strokeWidth": 2.2},
     "encoding": {
      "x": {"field": "E", "type": "quantitative", "scale": {"type": "log", "domain": [1e-5, 1e8], "nice": false},
            "axis": {"values": [1e-5, 1e-4, 1e-3, 0.01, 0.1, 1, 10, 100, 1000, 10000, 100000, 1000000, 10000000, 100000000], "labelExpr": "abs(round(log(datum.value)/LN10)) % 2 == 1 ? '10' + (datum.value < 1 ? '⁻' : '') + ['⁰','¹','²','³','⁴','⁵','⁶','⁷','⁸','⁹','¹⁰','¹¹','¹²','¹³','¹⁴','¹⁵','¹⁶','¹⁷'][abs(round(log(datum.value)/LN10))] : ''", "title": ["hν [keV]", "(b)"], "titleLineHeight": 25, "labelPadding": 8, "titlePadding": 4}},
      "y": {"field": "flux", "type": "quantitative", "scale": {"type": "log", "domain": [3.09e-17, 3.24e-8], "nice": false},
            "axis": {"orient": "right", "values": [1e-8, 1e-9, 1e-10, 1e-11, 1e-12, 1e-13, 1e-14, 1e-15, 1e-16], "labelExpr": "'10' + (datum.value < 1 ? '⁻' : '') + ['⁰','¹','²','³','⁴','⁵','⁶','⁷','⁸','⁹','¹⁰','¹¹','¹²','¹³','¹⁴','¹⁵','¹⁶','¹⁷'][abs(round(log(datum.value)/LN10))]", "title": "νFᵥ [erg s⁻¹ cm⁻²]", "titleFontSize": 19, "titleAngle": 270, "titleBaseline": "top", "labelPadding": 7, "titlePadding": 6}},
      "color": {"field": "sed", "type": "nominal", "legend": null, "scale": {"domain": ["SED1","SED2","SED3","SED4","SED5"], "range": ["#0000ff","#ff0000","#ffa500","#008000","#808080"]}},
      "strokeDash": {"field": "kind", "type": "nominal", "scale": {"domain": ["Forward shock + kilonova", "Kilonova"], "range": [[1, 0], [2, 3]]},
                     "legend": {"title": null, "orient": "none", "legendX": 26, "legendY": 15, "symbolType": "M-2.5,0L2.5,0", "symbolSize": 200, "symbolStrokeColor": "black", "symbolStrokeWidth": 2.5, "labelFontSize": 17, "labelOffset": 24, "clipHeight": 14, "rowPadding": 8, "padding": 0, "labelLimit": 300}}}},
    {"data": {"name": "rlines"}, "transform": [{"filter": "datum.kind != 'Kilonova'"}],
     "mark": {"type": "line", "clip": true, "strokeWidth": 2.2},
     "encoding": {
      "x": {"field": "E", "type": "quantitative"},
      "y": {"field": "flux", "type": "quantitative"},
      "color": {"field": "sed", "type": "nominal", "legend": null},
      "strokeDash": {"field": "kind", "type": "nominal"}}},
    {"data": {"name": "bowties"},
     "mark": {"type": "line", "clip": true, "strokeWidth": 3, "strokeJoin": "round"},
     "encoding": {
      "x": {"field": "E", "type": "quantitative"},
      "y": {"field": "flux", "type": "quantitative"},
      "color": {"field": "sed", "type": "nominal", "legend": null},
      "detail": {"field": "bt"},
      "order": {"field": "i", "type": "quantitative"}}},
    {"data": {"name": "rpoints"}, "transform": [{"filter": "isValid(datum.lo)"}],
     "mark": {"type": "rule", "strokeWidth": 2},
     "encoding": {
      "x": {"field": "E", "type": "quantitative"},
      "y": {"field": "lo", "type": "quantitative"}, "y2": {"field": "hi"},
      "stroke": {"field": "sed", "type": "nominal", "legend": null, "scale": {"domain": ["SED1","SED2","SED3","SED4","SED5"], "range": ["#0000ff","#ff0000","#ffa500","#008000","#808080"]}}}},
    {"data": {"name": "rpoints"},
     "mark": {"type": "point", "fill": "white", "opacity": 1, "strokeWidth": 1.5, "size": 150, "shape": "M0,-1L0.235,-0.324L0.951,-0.309L0.38,0.124L0.588,0.809L0,0.4L-0.588,0.809L-0.38,0.124L-0.951,-0.309L-0.235,-0.324Z"},
     "encoding": {
      "x": {"field": "E", "type": "quantitative"},
      "y": {"field": "flux", "type": "quantitative"},
      "stroke": {"field": "sed", "type": "nominal", "legend": null}}}
   ]},
   {"data": {"name": "rpoints"}, "mark": {"type": "point", "opacity": 0},
    "encoding": {
     "x": {"field": "E", "type": "quantitative", "axis": null},
     "y": {"field": "flux", "type": "quantitative", "axis": {"orient": "left", "values": [1e-8, 1e-9, 1e-10, 1e-11, 1e-12, 1e-13, 1e-14, 1e-15, 1e-16], "labels": false, "title": null}}}}
  ],
  "resolve": {"axis": {"y": "independent"}}
 }
],
"spacing": 47,
"bounds": "flush",
"resolve": {"scale": {"x": "independent", "y": "independent", "color": "independent", "stroke": "independent", "shape": "independent", "fill": "independent", "strokeDash": "independent"}}
}
